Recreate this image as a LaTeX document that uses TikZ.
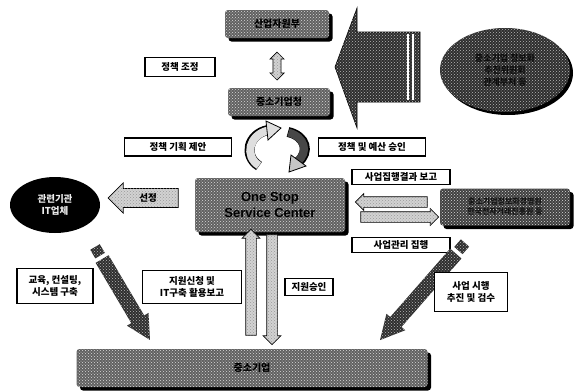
\documentclass[tikz,border=0pt]{standalone}
\usepackage{fontspec}
\setmainfont{Noto Sans CJK KR}
\setsansfont{Liberation Sans}
\usetikzlibrary{shapes.geometric,shapes.arrows,shadows,patterns,calc}
\tikzset{
  tex/.style={postaction={pattern=crosshatch dots, pattern color=#1}},
  gbox/.style={rounded corners=3pt, fill=black!62, tex=gray!30,
    drop shadow={shadow xshift=3.5pt, shadow yshift=-3.5pt, fill=black, opacity=1},
    font=\bfseries\fontsize{10}{12}\selectfont, align=center, inner sep=0pt},
  lbl/.style={draw=black, line width=1.4pt, fill=white,
    font=\bfseries\fontsize{9.5}{11.5}\selectfont, align=center, inner sep=0pt},
  harrow/.style={single arrow, draw=black, line width=0.7pt, fill=gray!35, tex=gray!80,
    inner sep=0pt},
  darkshape/.style={fill=black!82, tex=gray!55},
}
\begin{document}
\begin{tikzpicture}[x=1pt,y=-1pt]
\useasboundingbox (0,0) rectangle (575,391);
\fill[white] (0,0) rectangle (575,391);

% top boxes
\node[gbox, minimum width=104, minimum height=28] (mocie) at (277,24) {산업자원부};
\node[gbox, minimum width=102, minimum height=28] (smba) at (279,102) {중소기업청};
\node[lbl, minimum width=70, minimum height=19] (coord) at (180,67) {정책 조정};
\node[double arrow, draw=black, line width=0.7pt, fill=gray!35, tex=gray!80,
  shape border rotate=90, inner sep=3pt, minimum height=28, minimum width=14,
  double arrow head extend=2.5pt] (dbl) at (277,66) {};

% big arrow from right ellipse
\path[darkshape, draw=black, line width=0.6pt] (335,67) -- (357,8) -- (357,32) -- (420,32)
  -- (420,102) -- (357,102) -- (357,128) -- cycle;
\draw[white, line width=1.4pt] (408,34) -- (408,100) (413,34) -- (413,100);
\node[ellipse, darkshape, minimum width=130, minimum height=84,
  drop shadow={shadow xshift=3pt, shadow yshift=-3pt, fill=black, opacity=1},
  font=\bfseries\fontsize{9}{12}\selectfont, text=black!95, align=center] (comm) at (505,70)
  {중소기업 정보화\\추진위원회\\관계부처 등};

% labels around cycle
\node[lbl, minimum width=107, minimum height=18] (prop) at (178,147) {정책 기획 제안};
\node[lbl, minimum width=107, minimum height=18] (appr) at (372,147) {정책 및 예산 승인};

% circular arrows
\draw[line width=10pt, black] (259,166) .. controls (243,156) and (248,134) .. (268,130);
\draw[line width=8pt, gray!25] (259,165.5) .. controls (244,156) and (249,135) .. (268,130.5);
\path[fill=gray!25, draw=black, line width=0.8pt] (266,121) -- (281,128) -- (268,140) -- cycle;
\draw[line width=10pt, black] (288,132) .. controls (306,136) and (310,152) .. (298,162);
\draw[line width=8pt, black!72] (288.5,132.5) .. controls (305,137) and (309,152) .. (297.5,161.5);
\path[fill=gray!45, draw=black, line width=0.8pt] (306,166) -- (289,172) -- (291,155) -- cycle;

% center
\node[gbox, minimum width=150, minimum height=54, font=\sffamily\bfseries\fontsize{13}{16}\selectfont]
  (oss) at (270,205) {One Stop\\Service Center};

% left
\node[harrow, shape border rotate=180, minimum height=70, minimum width=30,
  inner ysep=4pt, single arrow head extend=5pt,
  font=\bfseries\fontsize{9.5}{11}\selectfont] (sel) at (148,198) {선정};
\node[ellipse, fill=black, minimum width=90, minimum height=56, text=gray!15,
  font=\bfseries\fontsize{9.5}{12}\selectfont, align=center, inner sep=0pt] (it) at (55,205)
  {관련기관\\IT업체};

% right
\node[lbl, minimum width=98, minimum height=15] (rep) at (401,177) {사업집행결과 보고};
\node[lbl, minimum width=98, minimum height=15] (mgmt) at (401,245) {사업관리 집행};
\node[harrow, shape border rotate=180, minimum height=72, minimum width=16,
  inner ysep=5pt, single arrow head extend=3pt] (al) at (394,202) {};
\node[harrow, minimum height=78, minimum width=16,
  inner ysep=5pt, single arrow head extend=3pt] (ar) at (397,217) {};
\node[gbox, fill=black!75, minimum width=130, minimum height=37,
  font=\bfseries\fontsize{8}{10}\selectfont, text=black!92] (agency) at (505,207)
  {중소기업정보화경영원\\한국전자거래진흥원 등};

% pencils
\begin{scope}[shift={(95,247)}, rotate=-59.4]
  \path[darkshape] (0,-5.5) rectangle (10,5.5);
  \path[darkshape] (14,-7.5) -- (84,-7.5) -- (84,-12.5) -- (108,0) -- (84,12.5) -- (84,7.5) -- (14,7.5) -- cycle;
\end{scope}
\begin{scope}[shift={(465,243)}, rotate=228.8]
  \path[darkshape] (0,-5.5) rectangle (10,5.5);
  \path[darkshape] (14,-7.5) -- (105,-7.5) -- (105,-12.5) -- (129,0) -- (105,12.5) -- (105,7.5) -- (14,7.5) -- cycle;
\end{scope}

% lower labels
\node[lbl, minimum width=76, minimum height=35] (edu) at (55,286) {교육, 컨설팅,\\시스템 구축};
\node[lbl, minimum width=99, minimum height=33] (req) at (192,287) {지원신청 및\\IT구축 활용보고};
\node[lbl, minimum width=48, minimum height=17] (ok) at (309,287) {지원승인};
\node[lbl, minimum width=73, minimum height=39] (exe) at (471,292) {사업 시행\\추진 및 검수};

\node[harrow, shape border rotate=90, minimum height=106, minimum width=17,
  inner sep=5pt, single arrow head extend=3.5pt] (up) at (251,285) {};
\node[harrow, shape border rotate=270, minimum height=110, minimum width=17,
  inner sep=5pt, single arrow head extend=3.5pt] (down) at (272,287) {};

% bottom
\node[gbox, minimum width=351, minimum height=38] (sme) at (252,368) {중소기업};
\end{tikzpicture}
\end{document}
